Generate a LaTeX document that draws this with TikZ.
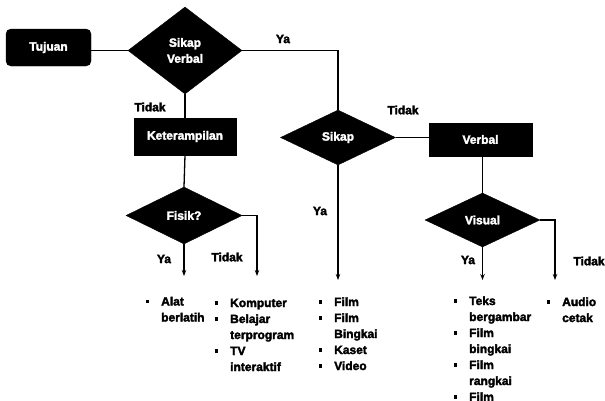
\documentclass[tikz,border=0pt]{standalone}
\usepackage{fontspec}
\setmainfont{Liberation Sans}[BoldFeatures={FakeBold=2.5}]
\usetikzlibrary{shapes.geometric,arrows.meta}
\newcommand\bulsq{\makebox[15.5pt][l]{\raisebox{2.5pt}{\rule{3.2pt}{3.2pt}}}}
\begin{document}
\begin{tikzpicture}[x=1pt,y=-1pt,
  txt/.style={font=\fontsize{12}{16}\selectfont\bfseries},
  blk/.style={txt,fill=black,text=white,draw=black,inner sep=0pt},
  dia/.style={blk,diamond,align=center},
  box/.style={blk,rectangle},
  lbl/.style={txt,inner sep=0pt},
  lst/.style={txt,inner sep=0pt,anchor=base west},
  con/.style={line width=1.3pt},
  arr/.style={con,-{Stealth[length=6pt,width=4.5pt]}}]
\useasboundingbox (0,0) rectangle (605,400);
% nodes
\node[box,rounded corners=5pt,minimum width=85pt,minimum height=37pt] (tuj) at (48.5,47.5) {Tujuan};
\node[dia,minimum width=114pt,minimum height=87pt] (sv) at (185,50.5) {Sikap\\Verbal};
\node[box,minimum width=102pt,minimum height=37pt] (ket) at (185,136.5) {Keterampilan};
\node[dia,minimum width=116pt,minimum height=57pt] (fis) at (184,215.5) {Fisik?};
\node[dia,minimum width=115pt,minimum height=55pt] (sik) at (338,137.5) {Sikap};
\node[box,minimum width=103pt,minimum height=33pt] (ver) at (480.5,139.5) {Verbal};
\node[dia,minimum width=115pt,minimum height=54pt] (vis) at (482.5,220) {Visual};
% end points
\coordinate (fy) at (184,276);
\coordinate (ft) at (257,276);
\coordinate (sy) at (338,280);
\coordinate (vy) at (482.5,280);
\coordinate (vt) at (555,280);
% connectors
\draw[con] (sv.west) -- (sv.west -| tuj.east);
\draw[con] (sv.east) -| (sik.north);
\draw[con] (sv.south) -- (ket.north);
\draw[con] (ket.south) -- (fis.north);
\draw[con] (sik.east) -- (sik.east -| ver.west);
\draw[con] (ver.south -| vis.north) -- (vis.north);
\draw[arr] (fis.south) -- (fy);
\draw[arr] (fis.east) -| (ft);
\draw[arr] (sik.south) -- (sy);
\draw[arr] (vis.south) -- (vy);
\draw[arr] (vis.east) -| (vt);
% labels
\node[lbl] (l1) at (283,39) {Ya};
\node[lbl] (l2) at (150,107) {Tidak};
\node[lbl] (l3) at (403,110) {Tidak};
\node[lbl] (l4) at (320,211) {Ya};
\node[lbl] (l5) at (164,259) {Ya};
\node[lbl] (l6) at (227,257) {Tidak};
\node[lbl] (l7) at (468,260) {Ya};
\node[lbl] (l8) at (589,261) {Tidak};
% lists
\node[lst] (a1) at (145.5,305.5) {\begin{tabular}[t]{@{}l@{}l@{}}\bulsq&Alat\\&berlatih\end{tabular}};
\node[lst] (a2) at (214.5,307) {\begin{tabular}[t]{@{}l@{}l@{}}\bulsq&Komputer\\\bulsq&Belajar\\&terprogram\\\bulsq&TV\\&interaktif\end{tabular}};
\node[lst] (a3) at (318.5,306) {\begin{tabular}[t]{@{}l@{}l@{}}\bulsq&Film\\\bulsq&Film\\&Bingkai\\\bulsq&Kaset\\\bulsq&Video\end{tabular}};
\node[lst] (a4) at (453.5,305) {\begin{tabular}[t]{@{}l@{}l@{}}\bulsq&Teks\\&bergambar\\\bulsq&Film\\&bingkai\\\bulsq&Film\\&rangkai\\\bulsq&Film\end{tabular}};
\node[lst] (a5) at (546.5,306) {\begin{tabular}[t]{@{}l@{}l@{}}\bulsq&Audio\\&cetak\end{tabular}};
\end{tikzpicture}
\end{document}
